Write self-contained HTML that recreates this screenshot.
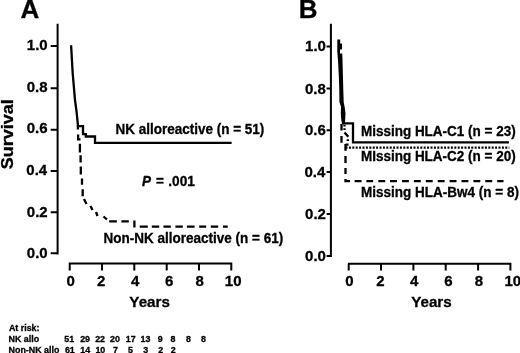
<!DOCTYPE html>
<html><head><meta charset="utf-8"><style>
html,body{margin:0;padding:0;background:#fff;width:520px;height:353px;overflow:hidden}
svg{display:block;will-change:transform}
text{font-family:"Liberation Sans",sans-serif;font-weight:bold;fill:#000;stroke:#000;stroke-width:0.3px}
.ax{stroke:#000;stroke-width:2;fill:none}
.cv{stroke:#000;stroke-width:2.3;fill:none;stroke-linejoin:miter}
.ds{stroke:#000;stroke-width:2.3;fill:none}
</style></head><body>
<svg width="520" height="353" viewBox="0 0 520 353">
<text x="20.45" y="17.50" style="font-size:26.00px">A</text>
<path class="ax" d="M57.6,23.8 V254.4 M50.7,46.1 H57.6 M50.7,88.2 H57.6 M50.7,129.8 H57.6 M50.7,171.0 H57.6 M50.7,212.3 H57.6 M50.7,253.3 H57.6"/>
<text x="26.87" y="49.70" style="font-size:15.00px">1.0</text>
<text x="26.71" y="91.60" style="font-size:15.00px">0.8</text>
<text x="26.79" y="132.80" style="font-size:15.00px">0.6</text>
<text x="26.32" y="174.80" style="font-size:15.00px">0.4</text>
<text x="26.85" y="216.90" style="font-size:15.00px">0.2</text>
<text x="26.87" y="257.90" style="font-size:15.00px">0.0</text>
<path class="ax" d="M68.7,263.6 H232.3 M69.7,263.6 V270.5 M102.0,263.6 V270.5 M134.3,263.6 V270.5 M166.7,263.6 V270.5 M199.0,263.6 V270.5 M231.3,263.6 V270.5"/>
<text x="66.49" y="285.70" style="font-size:15.00px">0</text>
<text x="97.07" y="285.70" style="font-size:15.00px">2</text>
<text x="130.95" y="285.70" style="font-size:15.00px">4</text>
<text x="165.12" y="285.70" style="font-size:15.00px">6</text>
<text x="195.52" y="285.70" style="font-size:15.00px">8</text>
<text x="224.80" y="285.70" style="font-size:15.00px">10</text>
<text x="129.35" y="306.50" style="font-size:15.20px">Years</text>
<g transform="translate(12.9,168.70) rotate(-90)"><text transform="translate(-0.52,0.00) scale(1.0969,1.0000)" style="font-size:16.40px">Survival</text></g>
<path class="cv" d="M71.1,45.3 L72.6,72 L75,100 L76.6,112 L78,126.1 L83,126.1 L83,134.1 L85.8,134.1 L85.8,136.5 L95,136.5 L95,142.8 L231.6,142.8"/>
<path class="ds" d="M77.9,125 V129.4 M78.1,134.5 V139.3 H80.5 M79.9,143.8 V152.4 M80.6,155.3 V162.5 M80.8,166.5 V174.4 M82,178.4 V184.8 M82.7,189.3 V196.3 M84,199 L86.5,204 M90.5,206 L92.5,210 M96,212 L97.5,216 M103.5,216.5 L107,219.5 M109.2,221.4 H116.9 M121.4,221.4 H128.8 M134.4,220.5 V227.5 M139.7,226.6 H147.8 M151.8,226.6 H159.2 M163.4,226.6 H170.8 M175.4,226.6 H182.8 M186.9,226.6 H194.6 M199.2,226.6 H206.2 M210.8,226.6 H218.2 M223,226.6 H227.7"/>
<text transform="translate(115.50,133.70) scale(1.0000,1.0400)" style="font-size:13.50px">NK alloreactive (n = 51)</text>
<text transform="translate(141.96,185.50) scale(1.0000,1.0400)" style="font-size:13.50px;font-style:italic">P</text>
<text transform="translate(155.95,185.50) scale(1.0000,1.0400)" style="font-size:13.50px">=</text>
<text transform="translate(168.27,185.50) scale(1.0000,1.0400)" style="font-size:13.63px">.001</text>
<text transform="translate(103.60,243.10) scale(1.0000,1.0400)" style="font-size:13.50px">Non-NK alloreactive (n = 61)</text>
<text x="298.66" y="17.50" style="font-size:26.00px">B</text>
<path class="ax" d="M330.9,23.8 V257.1 M326.6,46.6 H330.9 M326.6,88.6 H330.9 M326.6,130.2 H330.9 M326.6,172.1 H330.9 M326.6,214.0 H330.9 M326.6,256.0 H330.9"/>
<text x="305.06" y="51.30" style="font-size:15.00px">1.0</text>
<text x="304.91" y="93.50" style="font-size:15.00px">0.8</text>
<text x="304.99" y="135.20" style="font-size:15.00px">0.6</text>
<text x="304.52" y="177.20" style="font-size:15.00px">0.4</text>
<text x="305.05" y="218.50" style="font-size:15.00px">0.2</text>
<text x="305.06" y="260.50" style="font-size:15.00px">0.0</text>
<path class="ax" d="M347.9,263.7 H511.4 M348.7,263.7 V270.4 M381.0,263.7 V270.4 M413.4,263.7 V270.4 M445.7,263.7 V270.4 M478.1,263.7 V270.4 M510.4,263.7 V270.4"/>
<text x="345.19" y="285.80" style="font-size:15.00px">0</text>
<text x="376.17" y="285.80" style="font-size:15.00px">2</text>
<text x="410.00" y="285.80" style="font-size:15.00px">4</text>
<text x="444.22" y="285.80" style="font-size:15.00px">6</text>
<text x="474.87" y="285.80" style="font-size:15.00px">8</text>
<text x="504.50" y="285.80" style="font-size:15.00px">10</text>
<text x="411.20" y="306.50" style="font-size:15.20px">Years</text>
<path class="cv" d="M342.8,123.3 L353,123.3 L353,142.3 L508.9,142.3"/>
<polygon fill="#000" points="337.3,39.4 340.2,39.6 340.2,42 340,43.6 342,43.6 342,49.4 340,49.4 340,53.4 342.2,53.6 342.5,60 342.9,75 343.3,90 343.7,102.2 344.7,107.3 345.5,113.4 345.2,118.5 345,122.4 343.6,124.3 342,124.3 341.2,119 340.8,113 341.1,107 339.4,102 339.3,90 338.8,75 338.1,62 337.3,52"/>
<path class="ds" d="M341.5,124 V130.4 M341.5,136 V142.8 M345.5,143.9 V150.8 M345.5,144.6 H348.5 M345.5,156 V163 M345.5,168 V174 M345.5,179 V181.1 H350 M354.6,181.1 H361.5 M366.4,181.1 H373.1 M378.3,181.1 H385.2 M390.1,181.1 H397 M402,181.1 H408.9 M413.9,181.1 H420.8 M425.8,181.1 H432.7 M437.7,181.1 H444.6 M449.6,181.1 H456.5 M461.5,181.1 H468.4 M473.4,181.1 H480.3 M485.3,181.1 H492.2 M497.2,181.1 H503.5"/>
<path class="ds" style="stroke-dasharray:2 1.4;stroke-width:2.4" d="M345.5,147.6 H509.3"/>
<path class="ds" d="M344.5,124.8 V126.6 M344.5,128.2 V130 M344.5,132.6 L348.3,136.8 M347.8,139.3 V141.1"/>
<text transform="translate(360.90,135.70) scale(1.0000,1.0400)" style="font-size:13.50px">Missing HLA-C1 (n = 23)</text>
<text transform="translate(360.90,160.50) scale(1.0000,1.0400)" style="font-size:13.50px">MIssing HLA-C2 (n = 20)</text>
<text transform="translate(361.10,196.50) scale(1.0000,1.0400)" style="font-size:13.50px">Missing HLA-Bw4 (n = 8)</text>
<text x="8.93" y="331.10" style="font-size:8.90px">At risk:</text>
<text x="8.55" y="341.90" style="font-size:8.90px">NK allo</text>
<text x="8.55" y="352.50" style="font-size:8.90px">Non-NK allo</text>
<text x="64.34" y="341.90" style="font-size:8.90px">51</text>
<text x="80.16" y="341.90" style="font-size:8.90px">29</text>
<text x="95.17" y="341.90" style="font-size:8.90px">22</text>
<text x="110.08" y="341.90" style="font-size:8.90px">20</text>
<text x="125.77" y="341.90" style="font-size:8.90px">17</text>
<text x="140.53" y="341.90" style="font-size:8.90px">13</text>
<text x="157.83" y="341.90" style="font-size:8.90px">9</text>
<text x="170.52" y="341.90" style="font-size:8.90px">8</text>
<text x="186.12" y="341.90" style="font-size:8.90px">8</text>
<text x="201.02" y="341.90" style="font-size:8.90px">8</text>
<text x="64.91" y="352.50" style="font-size:8.90px">61</text>
<text x="80.29" y="352.50" style="font-size:8.90px">14</text>
<text x="95.45" y="352.50" style="font-size:8.90px">10</text>
<text x="113.03" y="352.50" style="font-size:8.90px">7</text>
<text x="128.01" y="352.50" style="font-size:8.90px">5</text>
<text x="143.28" y="352.50" style="font-size:8.90px">3</text>
<text x="158.25" y="352.50" style="font-size:8.90px">2</text>
<text x="170.85" y="352.50" style="font-size:8.90px">2</text>
</svg>
</body></html>
